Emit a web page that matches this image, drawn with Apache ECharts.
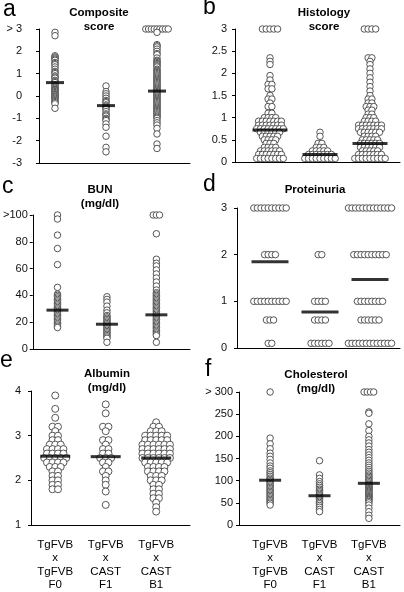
<!DOCTYPE html>
<html><head><meta charset="utf-8">
<script src="https://cdn.jsdelivr.net/npm/echarts@6/dist/echarts.min.js"></script>
<style>html,body{margin:0;padding:0;background:#fff}#c{width:404px;height:592px}</style>
</head><body><div id="c"></div>
<script>
const groups = ['F0', 'F1', 'B1'];
const groupLabels = ['TgFVB\nx\nTgFVB\nF0', 'TgFVB\nx\nCAST\nF1', 'TgFVB\nx\nCAST\nB1'];

// a. Composite score
const compositeF0 = [2.85, 2.7, 1.8, 1.75, 1.7, 1.65, 1.6, 1.5, 1.45, 1.4, 1.3, 1.2, 1.1, 1.05, 1.0, 0.9, 0.85, 0.8, 0.7, 0.65, 0.6, 0.5, 0.45, 0.4, 0.35, 0.3, 0.28, 0.25, 0.2, 0.15, 0.1, 0.08, 0.05, 0.0, -0.02, -0.05, -0.1, -0.15, -0.2, -0.25, -0.3, -0.35, -0.55];
const compositeF1 = [0.45, 0.2, 0.1, 0.0, -0.1, -0.2, -0.25, -0.3, -0.4, -0.45, -0.5, -0.55, -0.6, -0.7, -0.8, -0.85, -0.9, -1.0, -1.05, -1.1, -1.25, -1.4, -1.8, -2.3, -2.5];
const compositeB1 = [3, 3, 3, 3, 3, 3, 3, 3, 3, 2.85, 2.3, 2.25, 2.2, 2.1, 2.0, 1.9, 1.85, 1.7, 1.6, 1.55, 1.5, 1.45, 1.4, 1.35, 1.3, 1.2, 1.15, 1.1, 1.05, 1.0, 0.95, 0.9, 0.85, 0.8, 0.75, 0.7, 0.65, 0.6, 0.55, 0.5, 0.45, 0.4, 0.35, 0.3, 0.25, 0.2, 0.15, 0.1, 0.05, 0.0, -0.05, -0.1, -0.15, -0.2, -0.25, -0.3, -0.35, -0.4, -0.45, -0.5, -0.55, -0.6, -0.65, -0.7, -0.75, -0.8, -0.85, -0.9, -0.95, -1.0, -1.1, -1.2, -1.3, -1.45, -1.7, -2.15, -2.35];
const compositeMeans = [0.6, -0.43, 0.22];
const compositeTicks = [-3, -2, -1, 0, 1, 2, 3];
const compositeTickLabels = ['-3', '-2', '-1', '0', '1', '2', '> 3'];

// b. Histology score
const histologyF0 = [3, 3, 3, 3, 3, 2.35, 2.27, 2.2, 1.95, 1.85, 1.75, 1.75, 1.65, 1.65, 1.5, 1.42, 1.42, 1.33, 1.25, 1.25, 1.1, 1.1, 1, 1, 1, 1,
  0.92, 0.92, 0.92, 0.92, 0.92, 0.92, 0.92, 0.83, 0.83, 0.83, 0.83, 0.83, 0.83, 0.83, 0.75, 0.75, 0.75, 0.75, 0.75, 0.75, 0.75, 0.75,
  0.67, 0.67, 0.67, 0.67, 0.67, 0.67, 0.58, 0.58, 0.58, 0.58, 0.58, 0.5, 0.5, 0.5, 0.5, 0.42, 0.42, 0.42, 0.33, 0.33, 0.33, 0.33,
  0.25, 0.25, 0.25, 0.25, 0.25, 0.25, 0.17, 0.17, 0.17, 0.17, 0.17, 0.17, 0.17, 0.08, 0.08, 0.08, 0.08, 0.08, 0.08, 0.08, 0.08];
const histologyF1 = [0.67, 0.58, 0.42, 0.42, 0.33, 0.33, 0.33, 0.25, 0.25, 0.25, 0.25, 0.25, 0.17, 0.17, 0.17, 0.17, 0.17, 0.17, 0.17,
  0.08, 0.08, 0.08, 0.08, 0.08, 0.08, 0.08, 0.08, 0.08];
const histologyB1 = [3, 3, 3, 3, 2.35, 2.35, 2.27, 2.2, 2.1, 2.0, 1.9, 1.8, 1.7, 1.6, 1.5, 1.42, 1.42, 1.33, 1.33, 1.25, 1.25, 1.25, 1.17, 1.17, 1.08, 1.08, 1, 1, 1,
  0.92, 0.92, 0.92, 0.92, 0.83, 0.83, 0.83, 0.83, 0.83, 0.83, 0.83, 0.75, 0.75, 0.75, 0.75, 0.75, 0.75, 0.75, 0.67, 0.67, 0.67, 0.67, 0.67, 0.67,
  0.58, 0.58, 0.58, 0.58, 0.5, 0.5, 0.5, 0.5, 0.5, 0.42, 0.42, 0.42, 0.42, 0.42, 0.42, 0.33, 0.33, 0.33, 0.33, 0.33, 0.33,
  0.25, 0.25, 0.25, 0.25, 0.25, 0.17, 0.17, 0.17, 0.17, 0.17, 0.17, 0.17, 0.08, 0.08, 0.08, 0.08, 0.08, 0.08, 0.08, 0.08, 0.08];
const histologyMeans = [0.72, 0.17, 0.42];
const histologyTicks = [0, 0.5, 1, 1.5, 2, 2.5, 3];
const histologyTickLabels = ['0', '0.5', '1', '1.5', '2', '2.5', '3'];

// c. BUN (mg/dl)
const bunF0 = [100, 97, 85, 75, 63, 46, 41, 40, 39, 38, 37, 36, 35, 34, 33, 32, 31, 30, 29, 28, 27, 26, 25, 24, 23, 22, 21, 20, 19, 18, 17, 16];
const bunF1 = [39, 37, 35, 32, 29, 27, 25, 24, 23, 22, 21, 20, 19, 18, 17, 16, 15, 14, 13, 12, 11, 10, 9, 8, 5];
const bunB1 = [100, 100, 100, 86, 67, 64, 62, 59, 56, 53, 50, 47, 44, 42, 41, 40, 39, 38, 37, 36, 35, 34, 33, 32, 31, 30, 29, 28, 27, 26, 25, 24, 23, 22, 21, 20, 19, 18, 17, 16, 15, 14, 13, 12, 11, 10, 5];
const bunMeans = [29, 18.5, 25.5];
const bunTicks = [0, 20, 40, 60, 80, 100];
const bunTickLabels = ['0', '20', '40', '60', '80', '>100'];

// d. Proteinuria
const proteinuriaF0 = [3, 3, 3, 3, 3, 3, 3, 3, 3, 3, 2, 2, 2, 2, 1, 1, 1, 1, 1, 1, 1, 1, 1, 1, 0.6, 0.6, 0.6, 0.1, 0.1];
const proteinuriaF1 = [2, 2, 1, 1, 1, 1, 0.6, 0.6, 0.6, 0.6, 0.1, 0.1, 0.1, 0.1, 0.1, 0.1];
const proteinuriaB1 = [3, 3, 3, 3, 3, 3, 3, 3, 3, 3, 3, 3, 3, 2, 2, 2, 2, 2, 2, 2, 2, 2, 2, 1, 1, 1, 1, 1, 1, 1, 1, 0.6, 0.6, 0.6, 0.6, 0.6, 0.6,
  0.1, 0.1, 0.1, 0.1, 0.1, 0.1, 0.1, 0.1, 0.1, 0.1, 0.1, 0.1, 0.1];
const proteinuriaMeans = [1.85, 0.77, 1.47];
const proteinuriaTicks = [0, 1, 2, 3];
const proteinuriaTickLabels = ['0', '1', '2', '3'];

// e. Albumin (mg/dl)
const albuminF0 = [3.9, 3.6, 3.4, 3.2, 3.2, 3.1, 3.0, 3.0, 2.9, 2.9, 2.8, 2.8, 2.8, 2.7, 2.7, 2.7, 2.7, 2.6, 2.6, 2.6, 2.6, 2.5, 2.5, 2.5, 2.5, 2.5,
  2.4, 2.4, 2.4, 2.4, 2.3, 2.3, 2.3, 2.2, 2.2, 2.1, 2.1, 2.0, 2.0, 1.9, 1.9, 1.8, 1.8];
const albuminF1 = [3.7, 3.5, 3.2, 3.2, 3.1, 2.9, 2.9, 2.8, 2.7, 2.7, 2.6, 2.6, 2.5, 2.5, 2.5, 2.4, 2.4, 2.3, 2.2, 2.2, 2.1, 2.0, 1.9, 1.75, 1.45];
const albuminB1 = [3.3, 3.2, 3.2, 3.1, 3.1, 3.1, 3.0, 3.0, 3.0, 3.0, 3.0, 2.9, 2.9, 2.9, 2.9, 2.9, 2.8, 2.8, 2.8, 2.8, 2.8, 2.8,
  2.7, 2.7, 2.7, 2.7, 2.7, 2.7, 2.6, 2.6, 2.6, 2.6, 2.6, 2.6, 2.5, 2.5, 2.5, 2.5, 2.5, 2.5, 2.4, 2.4, 2.4, 2.4, 2.4,
  2.3, 2.3, 2.3, 2.3, 2.2, 2.2, 2.2, 2.2, 2.1, 2.1, 2.1, 2.0, 2.0, 2.0, 1.9, 1.9, 1.8, 1.8, 1.7, 1.7, 1.6, 1.6, 1.5, 1.4, 1.3];
const albuminMeans = [2.54, 2.53, 2.5];
const albuminTicks = [1, 2, 3, 4];
const albuminTickLabels = ['1', '2', '3', '4'];

// f. Cholesterol (mg/dl)
const cholesterolF0 = [300, 196, 183, 172, 162, 155, 148, 140, 133, 128, 122, 118, 114, 110, 106, 103, 100, 97, 94, 91, 88, 85, 82, 79, 76, 73, 70, 67, 64, 61, 58, 55, 52, 49, 45];
const cholesterolF1 = [145, 113, 105, 98, 93, 89, 85, 81, 78, 75, 72, 69, 66, 63, 60, 57, 54, 51, 48, 44, 40, 35, 30];
const cholesterolB1 = [300, 300, 300, 300, 255, 252, 228, 213, 200, 192, 185, 178, 170, 164, 158, 152, 146, 140, 135, 130, 125, 121, 117, 113, 110, 107, 104, 101, 98, 95, 92, 90, 88, 86, 84, 82, 80, 78, 76, 74, 72, 70, 68, 66, 64, 62, 60, 58, 56, 53, 50, 45, 38, 30, 22, 15];
const cholesterolMeans = [101, 66, 94];
const cholesterolTicks = [0, 50, 100, 150, 200, 250, 300];
const cholesterolTickLabels = ['0', '50', '100', '150', '200', '250', '> 300'];

const FONT = "'Liberation Sans', Arial, Helvetica, sans-serif";

const panels = [
  { letter: 'a', title: 'Composite\nscore', vals: [compositeF0, compositeF1, compositeB1], means: compositeMeans, ticks: compositeTicks, tickLabels: compositeTickLabels,
    L: { left: 39, top: 29, width: 151, height: 134, xMin: 0.686, xMax: 3.647, yMin: -3, yMax: 3, interval: 1, margin: 17, barW: 18, dx: 2.8, size: 6.5, tx: 99, ty: 6, lx: 3, ly: 10, xLabels: false } },
  { letter: 'b', title: 'Histology\nscore', vals: [histologyF0, histologyF1, histologyB1], means: histologyMeans, ticks: histologyTicks, tickLabels: histologyTickLabels,
    L: { left: 235, top: 29, width: 165, height: 133, xMin: 0.3, xMax: 3.6, yMin: 0, yMax: 3, interval: 0.5, margin: 8, barW: 35, dx: 3.8, size: 6.5, tx: 324, ty: 6, lx: 203, ly: 8, xLabels: false } },
  { letter: 'c', title: 'BUN\n(mg/dl)', vals: [bunF0, bunF1, bunB1], means: bunMeans, ticks: bunTicks, tickLabels: bunTickLabels,
    L: { left: 31, top: 215, width: 159, height: 134, xMin: 0.5, xMax: 3.68, yMin: 0, yMax: 100, interval: 20, margin: 5, barW: 22, dx: 3.2, size: 6.5, tx: 100, ty: 183, lx: 2, ly: 187, xLabels: false } },
  { letter: 'd', title: 'Proteinuria', vals: [proteinuriaF0, proteinuriaF1, proteinuriaB1], means: proteinuriaMeans, ticks: proteinuriaTicks, tickLabels: proteinuriaTickLabels,
    L: { left: 237, top: 208, width: 163, height: 140, xMin: 0.34, xMax: 3.6, yMin: 0, yMax: 3, interval: 1, margin: 10, barW: 37, dx: 3.6, size: 6.5, tx: 315, ty: 183, lx: 203, ly: 185, xLabels: false } },
  { letter: 'e', title: 'Albumin\n(mg/dl)', vals: [albuminF0, albuminF1, albuminB1], means: albuminMeans, ticks: albuminTicks, tickLabels: albuminTickLabels,
    L: { left: 31, top: 391, width: 159, height: 135, xMin: 0.52, xMax: 3.67, yMin: 1, yMax: 4, interval: 1, margin: 10, barW: 30, dx: 5.5, size: 7, tx: 107, ty: 367, lx: 0, ly: 361, xLabels: true } },
  { letter: 'f', title: 'Cholesterol\n(mg/dl)', vals: [cholesterolF0, cholesterolF1, cholesterolB1], means: cholesterolMeans, ticks: cholesterolTicks, tickLabels: cholesterolTickLabels,
    L: { left: 239, top: 392, width: 161, height: 134, xMin: 0.37, xMax: 3.63, yMin: 0, yMax: 300, interval: 50, margin: 6, barW: 22, dx: 3.2, size: 6.5, tx: 316, ty: 368, lx: 205, ly: 370, xLabels: true } }
];

function layoutGroup(vals, gi, L) {
  const pxPerX = L.width / (L.xMax - L.xMin);
  const counts = {};
  vals.forEach(v => { const k = v.toFixed(3); counts[k] = (counts[k] || 0) + 1; });
  const seen = {};
  return vals.map(v => {
    const k = v.toFixed(3);
    const n = counts[k];
    const i = seen[k] = (seen[k] === undefined ? 0 : seen[k] + 1);
    return [gi + 1 + (i - (n - 1) / 2) * L.dx / pxPerX, v];
  });
}

const grid = [], xAxis = [], yAxis = [], series = [], graphic = [];
panels.forEach((p, pi) => {
  const L = p.L;
  grid.push({ left: L.left, top: L.top, width: L.width, height: L.height, containLabel: false });
  xAxis.push({
    type: 'value', gridIndex: pi, min: L.xMin, max: L.xMax,
    axisLine: { show: true, onZero: false, lineStyle: { color: '#000', width: 1 } },
    axisTick: { show: false }, splitLine: { show: false },
    axisLabel: L.xLabels ? {
      show: true, customValues: [1, 2, 3], formatter: v => groupLabels[Math.round(v) - 1],
      fontSize: 11.5, lineHeight: 13.5, margin: 13, color: '#000', fontFamily: FONT
    } : { show: false }
  });
  yAxis.push({
    type: 'value', gridIndex: pi, min: L.yMin, max: L.yMax, interval: L.interval,
    axisLine: { show: true, onZero: false, lineStyle: { color: '#000', width: 1 } },
    axisTick: { show: true, length: 3, lineStyle: { color: '#000', width: 1 } },
    splitLine: { show: false },
    axisLabel: {
      fontSize: 11, color: '#111', fontFamily: FONT, margin: L.margin,
      formatter: v => { const i = p.ticks.findIndex(t => Math.abs(t - v) < 1e-9); return i >= 0 ? p.tickLabels[i] : ''; }
    }
  });
  const pts = [];
  p.vals.forEach((vals, gi) => layoutGroup(vals, gi, L).forEach(d => pts.push(d)));
  series.push({
    type: 'scatter', xAxisIndex: pi, yAxisIndex: pi, data: pts, symbol: 'circle', symbolSize: L.size,
    itemStyle: { color: '#fff', borderColor: '#444', borderWidth: 0.9, opacity: 1 },
    clip: false, silent: true, animation: false, z: 2
  });
  series.push({
    type: 'scatter', xAxisIndex: pi, yAxisIndex: pi,
    data: p.means.map((m, gi) => [gi + 1, m]), symbol: 'rect', symbolSize: [L.barW, 3],
    itemStyle: { color: '#000' }, clip: false, silent: true, animation: false, z: 3
  });
  graphic.push({ type: 'text', x: L.tx, y: L.ty, silent: true,
    style: { text: p.title, textAlign: 'center', textVerticalAlign: 'top', fontSize: 11.5, fontWeight: 'bold', lineHeight: 14, fontFamily: FONT, fill: '#000' } });
  graphic.push({ type: 'text', x: L.lx, y: L.ly, silent: true,
    style: { text: p.letter, textAlign: 'left', textVerticalAlign: 'middle', fontSize: 23, fontFamily: FONT, fill: '#000' } });
});

const chart = echarts.init(document.getElementById('c'), null, { renderer: 'canvas' });
chart.setOption({ animation: false, backgroundColor: '#fff', grid, xAxis, yAxis, series, graphic });
</script></body></html>
